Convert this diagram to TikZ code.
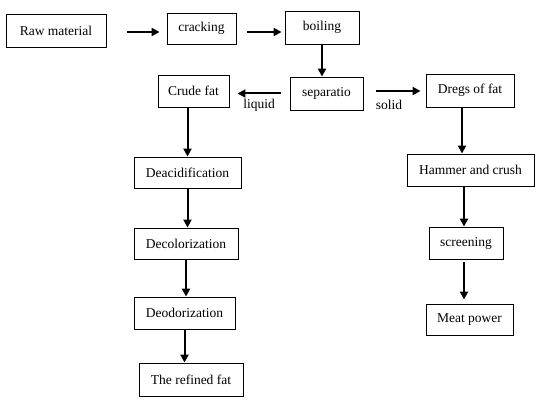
\documentclass[tikz,border=0pt]{standalone}
\usepackage{fontspec}
\setmainfont{Liberation Serif}
\usetikzlibrary{arrows.meta}
\begin{document}
\begin{tikzpicture}[x=1pt,y=-1pt,
  box/.style={draw=black,line width=0.9pt,inner sep=0pt,font=\fontsize{13.5}{15}\selectfont},
  arr/.style={line width=2pt,-{Triangle[length=8pt,width=8pt]}},
  lbl/.style={font=\fontsize{13.5}{15}\selectfont,inner sep=0pt}]
\useasboundingbox[fill=white] (0,0) rectangle (552,417);
\node[box,minimum width=100pt,minimum height=33pt] (raw) at (56,30.5) {Raw material};
\node[box,minimum width=69pt,minimum height=31pt] (crack) at (201.5,28.5) {cracking};
\node[box,minimum width=74pt,minimum height=33pt] (boil) at (322,27.5) {boiling};
\node[box,minimum width=73pt,minimum height=33pt] (sep) at (326.5,93.5) {separatio};
\node[box,minimum width=71pt,minimum height=32pt] (crude) at (193.5,91) {Crude fat};
\node[box,minimum width=88pt,minimum height=33pt] (dregs) at (470,90.5) {Dregs of fat};
\node[box,minimum width=107pt,minimum height=31pt] (deac) at (187.5,172.5) {Deacidification};
\node[box,minimum width=104pt,minimum height=31pt] (decol) at (186,243.5) {Decolorization};
\node[box,minimum width=101pt,minimum height=32pt] (deod) at (184.5,313) {Deodorization};
\node[box,minimum width=104pt,minimum height=33pt] (refined) at (191,379.5) {The refined fat};
\node[box,minimum width=127pt,minimum height=32pt] (hammer) at (470.5,170) {Hammer and crush};
\node[box,minimum width=74pt,minimum height=32pt] (screen) at (466,243) {screening};
\node[box,minimum width=87pt,minimum height=31pt] (meat) at (469.5,319.5) {Meat power};
\node[lbl] (liq) at (259,105) {liquid};
\node[lbl] (sol) at (389,105) {solid};
% horizontal arrows
\draw[arr,shorten <=21pt,shorten >=7pt] ([yshift=-1.5pt]raw.east) -- ([yshift=-1.5pt]raw.east -| crack.west);
\draw[arr,shorten <=11pt,shorten >=3pt] ([yshift=-3.5pt]crack.east) -- ([yshift=-3.5pt]crack.east -| boil.west);
\draw[arr,shorten <=9pt,shorten >=8pt] (sep.west) -- (sep.west -| crude.east);
\draw[arr,shorten <=13pt,shorten >=5pt] ([yshift=2.5pt]sep.east) -- ([yshift=2.5pt]sep.east -| dregs.west);
% vertical arrows
\draw[arr] (boil.south) -- (boil.south |- sep.north);
\draw[arr] (crude.south -| deac.north) -- (deac.north);
\draw[arr] (deac.south) -- (deac.south |- decol.north);
\draw[arr] (decol.south) -- (decol.south |- deod.north);
\draw[arr] (deod.south) -- (deod.south |- refined.north);
\draw[arr] ([xshift=-8pt]dregs.south) -- ([xshift=-8pt]dregs.south |- hammer.north);
\draw[arr] ([xshift=-6.5pt]hammer.south) -- ([xshift=-6.5pt]hammer.south |- screen.north);
\draw[arr,shorten <=3pt,shorten >=4pt] ([xshift=-2pt]screen.south) -- ([xshift=-2pt]screen.south |- meat.north);
\end{tikzpicture}
\end{document}
